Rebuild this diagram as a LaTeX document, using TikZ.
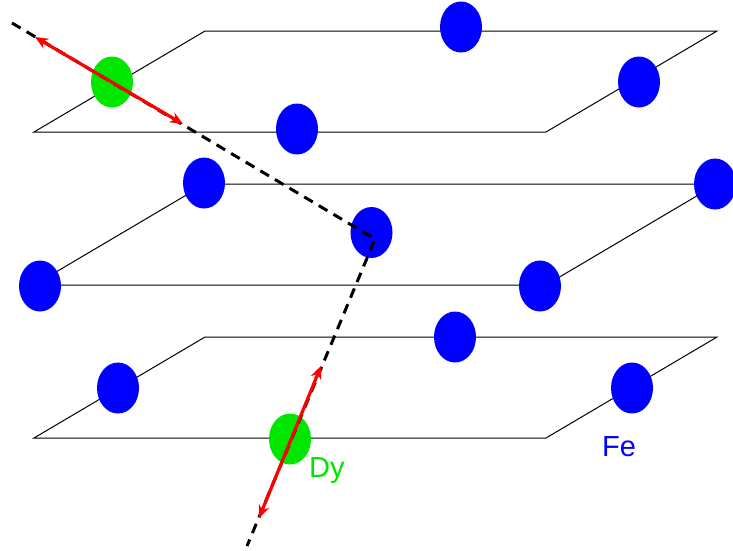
\documentclass[tikz,border=0pt]{standalone}
\usepackage{fontspec}
\setmainfont{Liberation Sans}
\usetikzlibrary{shapes.geometric,arrows.meta}
\definecolor{fegreen}{RGB}{0,230,0}
\definecolor{feblue}{RGB}{0,0,255}
\begin{document}
\begin{tikzpicture}[x=1pt,y=-1pt,
  plane/.style={draw=black,line width=1pt},
  atom/.style={ellipse,minimum width=42pt,minimum height=51pt,inner sep=0pt,fill=feblue},
  dyatom/.style={atom,fill=fegreen},
  path/.style={black,line width=3pt,dash pattern=on 10pt off 7pt},
  spin/.style={red,line width=3.2pt,{Stealth[length=13pt,width=11pt]}-{Stealth[length=13pt,width=11pt]}},
  lbl/.style={font=\fontsize{29}{30}\selectfont,inner sep=0pt,anchor=base west}]
\useasboundingbox (0,0) rectangle (733,550);
% planes
\foreach \y/\n in {31/t,184/m,337/b}{
  \coordinate (\n1) at (34,\y+101);
  \coordinate (\n2) at (546,\y+101);
  \coordinate (\n3) at (717,\y);
  \coordinate (\n4) at (205,\y);
  \draw[plane] (\n1) -- (\n2) -- (\n3) -- (\n4) -- cycle;
}
% top plane atoms
\node[atom] (a1) at (461,27) {};
\node[atom] (a2) at (297,129) {};
\node[atom] (a3) at (639,82) {};
\node[dyatom] (dy1) at (112,82) {};
% middle plane atoms
\node[atom] (a4) at (40,286) {};
\node[atom] (a5) at (204,183) {};
\node[atom] (a6) at (715,184) {};
\node[atom] (a7) at (540,286) {};
\node[atom] (a8) at (371.5,232.5) {};
% bottom plane atoms
\node[atom] (a9) at (118,388) {};
\node[atom] (a10) at (455,337) {};
\node[atom] (a11) at (632,388) {};
\node[dyatom] (dy2) at (290,439) {};
% exchange path
\coordinate (p0) at (12,23);
\coordinate (pk) at (375,239);
\coordinate (p1) at (247,546);
\draw[path] (p0) -- (pk) -- (p1);
% spins
\coordinate (s1a) at (35,37);
\coordinate (s1b) at (183,124);
\coordinate (s2a) at (321,366);
\coordinate (s2b) at (259,518);
\draw[spin] (s1a) -- (s1b);
\draw[spin] (s2a) -- (s2b);
% labels
\node[lbl,text=fegreen] (ldy) at (309,477) {Dy};
\node[lbl,text=feblue] (lfe) at (602,456) {Fe};
\end{tikzpicture}
\end{document}
